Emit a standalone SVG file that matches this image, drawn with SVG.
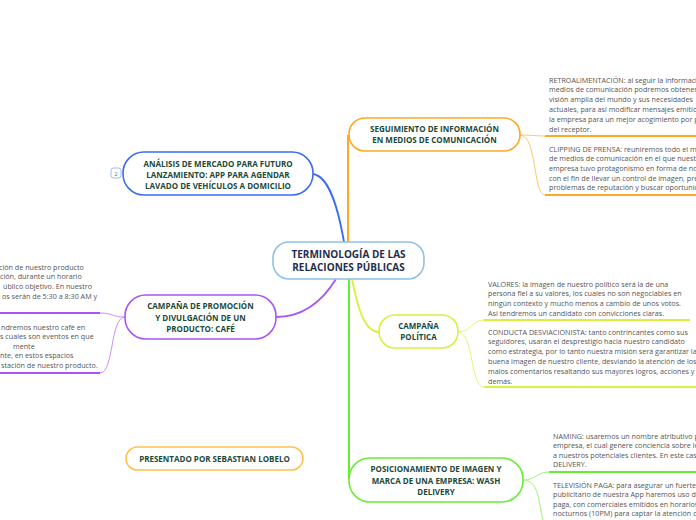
<svg xmlns="http://www.w3.org/2000/svg" width="696" height="520" viewBox="0 0 696 520">
<style>
.node{fill:#fff;stroke-width:1.6}
.nt{font-family:"Open Sans","Noto Sans",sans-serif;font-weight:bold;font-size:8px;fill:#1b4a3a;text-anchor:middle}
.ct{font-family:"Open Sans","Noto Sans",sans-serif;font-weight:bold;font-size:10px;fill:#1f2d4d;text-anchor:middle}
.note{font-family:"Open Sans","Noto Sans",sans-serif;font-size:7.2px;fill:#555}
.c{fill:none}
</style>
<rect width="696" height="520" fill="#fff"/>
<g id="connectors">
<path class="c" d="M313,174 C326,176 336,196 344,242" stroke="#3a6cf0" stroke-width="1.8"/>
<path class="c" d="M348,243 L348,135" stroke="#ffa726" stroke-width="2"/>
<path class="c" d="M336,279 C320,305 300,317 276,317" stroke="#a855f7" stroke-width="1.8"/>
<path class="c" d="M352,279 C358,310 365,332 379,332" stroke="#d9f03c" stroke-width="1.8"/>
<path class="c" d="M349,279 L349,480" stroke="#66ee33" stroke-width="2"/>
<path class="c" d="M520,135 C533,135 535,136 545,136" stroke="#ffc56b" stroke-width="1"/>
<path class="c" d="M520,135 C537,135 533,195 545,195" stroke="#ffc56b" stroke-width="1"/>
<path class="c" d="M545,136 H696 M545,195 H696" stroke="#ffa726" stroke-width="1.8"/>
<path class="c" d="M458,332 C471,332 472,320 484,320" stroke="#e4f57a" stroke-width="1"/>
<path class="c" d="M458,332 C474,332 470,387 484,387" stroke="#e4f57a" stroke-width="1"/>
<path class="c" d="M484,320 H690 M484,387 H696" stroke="#d9f03c" stroke-width="1.8"/>
<path class="c" d="M523,480 C536,480 537,472 549,472" stroke="#9cf57a" stroke-width="1"/>
<path class="c" d="M523,480 C542,480 538,512 545,525" stroke="#9cf57a" stroke-width="1"/>
<path class="c" d="M549,472 H696" stroke="#66ee33" stroke-width="1.8"/>
<path class="c" d="M125,317 C112,317 113,313 100,313" stroke="#cc8ef5" stroke-width="1"/>
<path class="c" d="M125,317 C110,317 114,373 100,373" stroke="#cc8ef5" stroke-width="1"/>
<path class="c" d="M0,313 H100 M0,373 H100" stroke="#a855f7" stroke-width="1.8"/>
</g>
<g id="center">
<rect class="node" x="273" y="242" width="151" height="37" rx="16" stroke="#8fc0e8"/>
<text class="ct" x="348.5" y="257.5">TERMINOLOGÍA DE LAS</text>
<text class="ct" x="348.5" y="271">RELACIONES PÚBLICAS</text>
</g>
<g id="analisis">
<rect class="node" x="123" y="152" width="190" height="43" rx="21" stroke="#3a6cf0"/>
<text class="nt" x="218" y="167">ANÁLISIS DE MERCADO PARA FUTURO</text>
<text class="nt" x="218" y="178">LANZAMIENTO: APP PARA AGENDAR</text>
<text class="nt" x="218" y="189">LAVADO DE VEHÍCULOS A DOMICILIO</text>
<rect x="111" y="168" width="10" height="10" rx="2.5" fill="#fff" stroke="#9bbaf5" stroke-width="1"/>
<text x="116" y="175.5" font-family="Open Sans, sans-serif" font-size="6px" fill="#6a7a8a" text-anchor="middle">2</text>
</g>
<g id="seguimiento">
<rect class="node" x="349" y="118" width="171" height="33" rx="16" stroke="#ffa726"/>
<text class="nt" x="434.5" y="132">SEGUIMIENTO DE INFORMACIÓN</text>
<text class="nt" x="434.5" y="143">EN MEDIOS DE COMUNICACIÓN</text>
</g>
<g id="retro">
<text class="note" x="549" y="82.5">RETROALIMENTACIÓN: al seguir la información de los</text>
<text class="note" x="549" y="92.3">medios de comunicación podremos obtener una</text>
<text class="note" x="549" y="102.1">visión amplia del mundo y sus necesidades</text>
<text class="note" x="549" y="111.9">actuales, para así modificar mensajes emitidos por</text>
<text class="note" x="549" y="121.7">la empresa para un mejor acogimiento por parte</text>
<text class="note" x="549" y="131.5">del receptor.</text>
</g>
<g id="clipping">
<text class="note" x="549" y="151.5">CLIPPING DE PRENSA: reuniremos todo el material</text>
<text class="note" x="549" y="161.2">de medios de comunicación en el que nuestra</text>
<text class="note" x="549" y="170.9">empresa tuvo protagonismo en forma de noticias,</text>
<text class="note" x="549" y="180.6">con el fin de llevar un control de imagen, prevenir</text>
<text class="note" x="549" y="190.3">problemas de reputación y buscar oportunidades.</text>
</g>
<g id="politica">
<rect class="node" x="379" y="315" width="79" height="33" rx="16" stroke="#d9f03c"/>
<text class="nt" x="418.5" y="328.5">CAMPAÑA</text>
<text class="nt" x="418.5" y="340">POLÍTICA</text>
</g>
<g id="valores">
<text class="note" x="488" y="286.5">VALORES: la imagen de nuestro político será la de una</text>
<text class="note" x="488" y="296.2">persona fiel a su valores, los cuales no son negociables en</text>
<text class="note" x="488" y="305.9">ningún contexto y mucho menos a cambio de unos votos.</text>
<text class="note" x="488" y="315.6">Así tendremos un candidato con convicciones claras.</text>
</g>
<g id="conducta">
<text class="note" x="488" y="334.5">CONDUCTA DESVIACIONISTA: tanto contrincantes como sus</text>
<text class="note" x="488" y="344.3">seguidores, usarán el desprestigio hacia nuestro candidato</text>
<text class="note" x="488" y="354.1">como estrategia, por lo tanto nuestra misión será garantizar la</text>
<text class="note" x="488" y="363.9">buena imagen de nuestro cliente, desviando la atención de los</text>
<text class="note" x="488" y="373.7">malos comentarios resaltando sus mayores logros, acciones y</text>
<text class="note" x="488" y="383.5">demás.</text>
</g>
<g id="posicionamiento">
<rect class="node" x="349" y="458" width="174" height="44" rx="21" stroke="#66ee33"/>
<text class="nt" x="436" y="472">POSICIONAMIENTO DE IMAGEN Y</text>
<text class="nt" x="436" y="483.5">MARCA DE UNA EMPRESA: WASH</text>
<text class="nt" x="436" y="495">DELIVERY</text>
</g>
<g id="naming">
<text class="note" x="553" y="438.5">NAMING: usaremos un nombre atributivo para la</text>
<text class="note" x="553" y="448">empresa, el cual genere conciencia sobre lo que hacemos</text>
<text class="note" x="553" y="457.5">a nuestros potenciales clientes. En este caso WASH</text>
<text class="note" x="553" y="467">DELIVERY.</text>
</g>
<g id="television">
<text class="note" x="553" y="487.5">TELEVISIÓN PAGA: para asegurar un fuerte impacto</text>
<text class="note" x="553" y="497.1">publicitario de nuestra App haremos uso de la televisión</text>
<text class="note" x="553" y="506.7">paga, con comerciales emitidos en horarios</text>
<text class="note" x="553" y="516.3">nocturnos (10PM) para captar la atención de</text>
</g>
<g id="promocion">
<rect class="node" x="125" y="295" width="151" height="44" rx="21" stroke="#a855f7"/>
<text class="nt" x="200.5" y="309">CAMPAÑA DE PROMOCIÓN</text>
<text class="nt" x="200.5" y="320.5">Y DIVULGACIÓN DE UN</text>
<text class="nt" x="200.5" y="332">PRODUCTO: CAFÉ</text>
</g>
<g id="promo-note1">
<text class="note" x="-1" y="269.5">ción de nuestro producto</text>
<text class="note" x="0" y="279.3">ción, durante un horario</text>
<text class="note" x="3" y="289.1">úblico objetivo. En nuestro</text>
<text class="note" x="2" y="298.9">os serán de 5:30 a 8:30 AM y</text>
</g>
<g id="promo-note2">
<text class="note" x="1" y="329.5">ndremos nuestro café en</text>
<text class="note" x="0" y="339.1">s cuales son eventos en que</text>
<text class="note" x="13" y="348.7">mente</text>
<text class="note" x="0" y="358.3">nte, en estos espacios</text>
<text class="note" x="1" y="367.9">stación de nuestro producto.</text>
</g>
<g id="presentado">
<rect class="node" x="126" y="447" width="177" height="23" rx="11.5" stroke="#ffc04d"/>
<text class="nt" x="214.5" y="462">PRESENTADO POR SEBASTIAN LOBELO</text>
</g>
</svg>
